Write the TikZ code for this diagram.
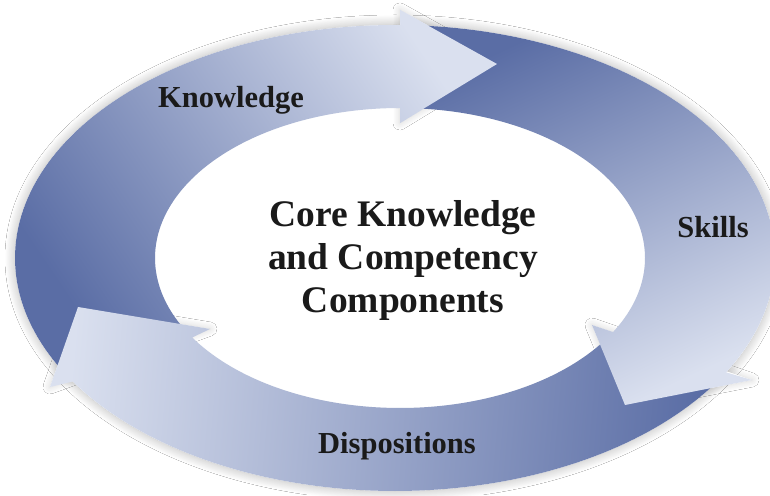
\documentclass[tikz,border=0pt]{standalone}
\usepackage{fontspec}
\setmainfont{Liberation Serif}
\usetikzlibrary{shadows.blur}
\definecolor{ringdark}{RGB}{90,109,165}
\definecolor{ringlight}{RGB}{218,224,239}
\definecolor{txt}{RGB}{26,26,26}
\begin{document}
\begin{tikzpicture}[x=1pt,y=1pt,
  lbl/.style={font=\fontsize{30.5}{36}\selectfont\bfseries, text=txt, inner sep=0pt, anchor=base},
  ctr/.style={font=\fontsize{37.5}{43}\selectfont\bfseries, text=txt, inner sep=0pt, anchor=base},
  shd/.style={fill=white, blur shadow={shadow xshift=0pt, shadow yshift=0pt, shadow blur radius=10pt, shadow opacity=30, shadow blur steps=16}},
  hshd/.style={fill=white, blur shadow={shadow xshift=0pt, shadow yshift=0pt, shadow blur radius=7pt, shadow opacity=18, shadow blur steps=12}},
  kshade/.style={top color=ringlight, bottom color=ringdark, shading angle=-56},
  sshade/.style={top color=ringlight, bottom color=ringdark, shading angle=-155},
  dshade/.style={top color=ringlight, bottom color=ringdark, shading angle=85}]
\useasboundingbox (0,0) rectangle (770,495);
\fill[white] (0,0) rectangle (770,495);
% shadows
\path[shd] (395,237) ellipse [x radius=380, y radius=233];
\path[hshd] (400,485) -- (497,431) -- (400,372) -- cycle;
\path[hshd] (592,170) -- (752,115) -- (625,90) -- cycle;
\path[hshd] (50,108) -- (78,188) -- (210,166) -- cycle;
% Knowledge arrow
\def\knowpath{plot[domain=209:89.2, samples=80] ({395+380*cos(\x)},{237+233*sin(\x)})
  -- (400,485) -- (497,431) -- (400,372)
  -- plot[domain=90:208, samples=80] ({400+245*cos(\x)},{237+150*sin(\x)}) -- cycle}
\shade[kshade] \knowpath;
% Dispositions arrow
\shade[dshade] plot[domain=-32:-148, samples=80] ({395+380*cos(\x)},{237+233*sin(\x)})
  -- (50,108) -- (78,188) -- (210,166)
  -- plot[domain=-148:-33, samples=80] ({400+245*cos(\x)},{237+150*sin(\x)}) -- cycle;
% Skills arrow
\shade[sshade] plot[domain=88:-29.4, samples=80] ({395+380*cos(\x)},{237+233*sin(\x)})
  -- (752,115) -- (625,90) -- (592,170)
  -- plot[domain=-29.6:88, samples=80] ({400+245*cos(\x)},{237+150*sin(\x)}) -- cycle;
% Knowledge head on top
\begin{scope}
  \clip (396,0) rectangle (770,495);
  \shade[kshade] \knowpath;
\end{scope}
% labels
\node[lbl] (knowledge) at (231,387) {Knowledge};
\node[lbl] (skills) at (713,257) {Skills};
\node[lbl] (dispositions) at (397,42) {Dispositions};
\node[ctr] (core1) at (403,268) {Core Knowledge};
\node[ctr] (core2) at (403,225) {and Competency};
\node[ctr] (core3) at (403,182) {Components};
\end{tikzpicture}
\end{document}
